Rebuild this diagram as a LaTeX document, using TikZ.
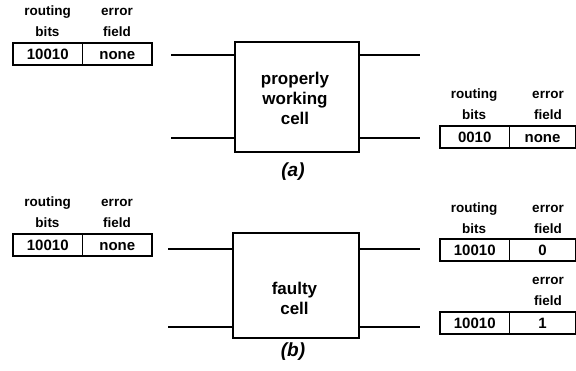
\documentclass[tikz,border=0pt]{standalone}
\usepackage{fontspec}
\setmainfont{Liberation Sans}
\begin{document}
\begin{tikzpicture}[x=1pt,y=-1pt,
  hdr/.style={font=\bfseries\fontsize{13.5}{16}\selectfont, anchor=base, inner sep=0pt},
  fieldbox/.style={draw, line width=1.3pt, minimum height=22pt, inner sep=0pt,
    text height=10.8pt, text depth=0pt, font=\bfseries\fontsize{15}{18}\selectfont},
  wide/.style={fieldbox, minimum width=69.5pt},
  narrow/.style={fieldbox, minimum width=66pt},
  unit/.style={draw, line width=1.6pt, inner sep=0pt},
  celltext/.style={font=\bfseries\fontsize{17}{20}\selectfont, align=center, inner sep=0pt},
  wire/.style={line width=2pt},
  caption/.style={font=\bfseries\itshape\fontsize{19}{22}\selectfont, inner sep=0pt}]
\useasboundingbox (0,0) rectangle (576,371);

% ---------- (a) properly working cell ----------
\node[unit, minimum width=124pt, minimum height=110pt] (cellA) at (297,97) {};
\node[celltext] (cellAtxt) at (295,98) {properly\\working\\cell};
\node[caption] (capA) at (293,172) {(a)};

\coordinate (aIn1) at (171,55);
\coordinate (aIn2) at (171,138);
\coordinate (aOut1) at (420,55);
\coordinate (aOut2) at (420,138);
\draw[wire] (aIn1) -- (aIn1 -| cellA.west);
\draw[wire] (aIn2) -- (aIn2 -| cellA.west);
\draw[wire] (cellA.east |- aOut1) -- (aOut1);
\draw[wire] (cellA.east |- aOut2) -- (aOut2);

% incoming message
\node[wide] (t1bits) at (47.75,54) {10010};
\node[wide] (t1err) at (117.25,54) {none};
\node[hdr] (t1r1) at (47.5,16) {routing};
\node[hdr] (t1r2) at (47.5,36.5) {bits};
\node[hdr] (t1e1) at (117,16) {error};
\node[hdr] (t1e2) at (117,36.5) {field};

% outgoing message
\node[wide] (t2bits) at (474.75,137) {0010};
\node[narrow] (t2err) at (542.5,137) {none};
\node[hdr] (t2r1) at (474,99) {routing};
\node[hdr] (t2r2) at (474,119.5) {bits};
\node[hdr] (t2e1) at (548,99) {error};
\node[hdr] (t2e2) at (548,119.5) {field};

% ---------- (b) faulty cell ----------
\node[unit, minimum width=126pt, minimum height=105pt] (cellB) at (296,285.5) {};
\node[celltext] (cellBtxt) at (294.5,298) {faulty\\cell};
\node[caption] (capB) at (293,352) {(b)};

\coordinate (bIn1) at (168,249);
\coordinate (bIn2) at (168,327);
\coordinate (bOut1) at (420,249);
\coordinate (bOut2) at (420,327);
\draw[wire] (bIn1) -- (bIn1 -| cellB.west);
\draw[wire] (bIn2) -- (bIn2 -| cellB.west);
\draw[wire] (cellB.east |- bOut1) -- (bOut1);
\draw[wire] (cellB.east |- bOut2) -- (bOut2);

% incoming message
\node[wide] (t3bits) at (47.75,245) {10010};
\node[wide] (t3err) at (117.25,245) {none};
\node[hdr] (t3r1) at (47.5,207) {routing};
\node[hdr] (t3r2) at (47.5,227.5) {bits};
\node[hdr] (t3e1) at (117,207) {error};
\node[hdr] (t3e2) at (117,227.5) {field};

% outgoing messages
\node[wide] (t4bits) at (474.75,250) {10010};
\node[narrow] (t4err) at (542.5,250) {0};
\node[hdr] (t4r1) at (474,213) {routing};
\node[hdr] (t4r2) at (474,233.5) {bits};
\node[hdr] (t4e1) at (548,213) {error};
\node[hdr] (t4e2) at (548,233.5) {field};

\node[wide] (t5bits) at (474.75,323) {10010};
\node[narrow] (t5err) at (542.5,323) {1};
\node[hdr] (t5e1) at (548,285) {error};
\node[hdr] (t5e2) at (548,305.5) {field};
\end{tikzpicture}
\end{document}
